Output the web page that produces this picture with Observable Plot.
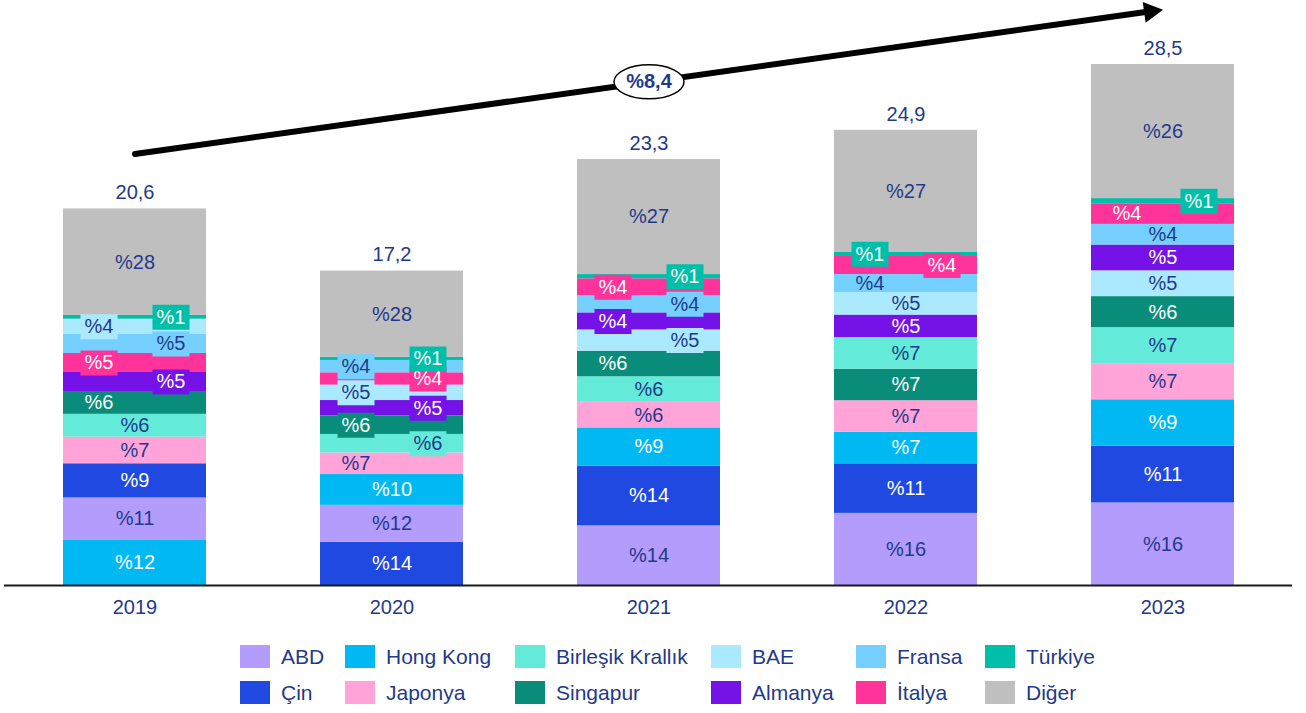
<!DOCTYPE html>
<html><head><meta charset="utf-8">
<script src="https://cdn.jsdelivr.net/npm/d3@7"></script>
<script src="https://cdn.jsdelivr.net/npm/@observablehq/plot@0.6"></script>
<style>
body{margin:0;background:#fff;font-family:"Liberation Sans",Arial,sans-serif;overflow:hidden;}
#chart{width:1306px;height:630px;}
.legend{display:grid;grid-auto-flow:column;grid-template-rows:23px 23px;grid-template-columns:105px 170px 196px 145px 129px 120px;row-gap:13px;margin:15px 0 0 240px;}
.item{display:flex;align-items:center;height:23px;font-size:21px;color:#1F3A8A;white-space:nowrap;}
.sw{width:30px;height:23px;margin-right:11px;flex:none;}
</style></head><body>
<div id="chart"></div>
<div class="legend" id="legend"></div>
<script>
const years = ["2019", "2020", "2021", "2022", "2023"];
const totals = [20.6, 17.2, 23.3, 24.9, 28.5];
const cagr = "%8,4";
const countries = ["ABD", "Çin", "Hong Kong", "Japonya", "Birleşik Krallık", "Singapur", "BAE", "Almanya", "Fransa", "İtalya", "Türkiye", "Diğer"];
const colors = ["#B49CFC", "#1F49E0", "#00B9F2", "#FFA3D8", "#63EAD8", "#0A8C7A", "#ABE9FF", "#7512E8", "#75D0FF", "#FF3399", "#00BFA8", "#BFBFBF"];

// shares (%) in the order of `countries`
const share2019 = [11, 9, 12, 7, 6, 6, 4, 5, 5, 5, 1, 28];
const share2020 = [12, 14, 10, 7, 6, 6, 5, 5, 4, 4, 1, 28];
const share2021 = [14, 14, 9, 6, 6, 6, 5, 4, 4, 4, 1, 27];
const share2022 = [16, 11, 7, 7, 7, 7, 5, 5, 4, 4, 1, 27];
const share2023 = [16, 11, 9, 7, 7, 6, 5, 5, 4, 4, 1, 26];

// stacking order per year, bottom to top
const order2019 = ["Hong Kong", "ABD", "Çin", "Japonya", "Birleşik Krallık", "Singapur", "Almanya", "İtalya", "Fransa", "BAE", "Türkiye", "Diğer"];
const order2020 = ["Çin", "ABD", "Hong Kong", "Japonya", "Birleşik Krallık", "Singapur", "Almanya", "BAE", "İtalya", "Fransa", "Türkiye", "Diğer"];
const order2021 = ["ABD", "Çin", "Hong Kong", "Japonya", "Birleşik Krallık", "Singapur", "BAE", "Almanya", "Fransa", "İtalya", "Türkiye", "Diğer"];
const order2022 = ["ABD", "Çin", "Hong Kong", "Japonya", "Singapur", "Birleşik Krallık", "Almanya", "BAE", "Fransa", "İtalya", "Türkiye", "Diğer"];
const order2023 = ["ABD", "Çin", "Hong Kong", "Japonya", "Birleşik Krallık", "Singapur", "BAE", "Almanya", "Fransa", "İtalya", "Türkiye", "Diğer"];

// label placement in stack order: c = centre, L/R = left/right with box, l = left without box
const place2019 = ["c", "c", "c", "c", "c", "l", "R", "L", "R", "L", "R", "c"];
const place2020 = ["c", "c", "c", "l", "R", "L", "R", "L", "R", "L", "R", "c"];
const place2021 = ["c", "c", "c", "c", "c", "l", "R", "L", "R", "L", "R", "c"];
const place2022 = ["c", "c", "c", "c", "c", "c", "c", "c", "l", "R", "L", "c"];
const place2023 = ["c", "c", "c", "c", "c", "c", "c", "c", "c", "l", "R", "c"];

const shares = [share2019, share2020, share2021, share2022, share2023];
const orders = [order2019, order2020, order2021, order2022, order2023];
const places = [place2019, place2020, place2021, place2022, place2023];

const navy = "#1F3A8A";
const whiteText = new Set(["Çin", "Hong Kong", "Singapur", "Almanya", "İtalya", "Türkiye"]);
const font = "Liberation Sans, Arial, sans-serif";
const OFF = 36;

const rows = [];
years.forEach((year, i) => {
  const sh = shares[i];
  const sum = d3.sum(sh);
  let cum = 0;
  orders[i].forEach((c, k) => {
    const s = sh[countries.indexOf(c)];
    const v = s / sum * totals[i];
    rows.push({year, country: c, y1: cum, y2: cum + v, mid: cum + v / 2, label: "%" + s, place: places[i][k], level: k});
    cum += v;
  });
});
const totalRows = years.map((year, i) => ({year, total: totals[i], label: totals[i].toFixed(1).replace(".", ",")}));
const arrowOffset = 3;
const trend = [{x1: years[0], y1: totals[0] + arrowOffset, x2: years[years.length - 1], y2: totals[totals.length - 1] + arrowOffset}];
const trendMid = [{x: years[2], y: (trend[0].y1 + trend[0].y2) / 2, label: cagr}];

const base = {
  width: 1306, height: 630,
  marginLeft: 4, marginRight: 14, marginTop: 0, marginBottom: 45,
  style: {fontFamily: font, fontSize: "20px", color: navy, background: "white", overflow: "visible"},
  x: {domain: years, paddingInner: 0.444, paddingOuter: 0.224, tickSize: 0, tickPadding: 14, label: null},
  y: {domain: [0, 32], axis: null},
  color: {domain: countries, range: colors}
};

// first pass to learn the pixel angle of the trend arrow
const p0 = Plot.plot({...base, marks: [Plot.barY(rows, {x: "year", y1: "y1", y2: "y2", fill: "country"})]});
const sx = p0.scale("x"), sy = p0.scale("y");
const px = v => sx.apply(v) + (sx.bandwidth || 0) / 2;
const py = v => sy.apply(v);
const ang = Math.atan2(py(trend[0].y2) - py(trend[0].y1), px(trend[0].x2) - px(trend[0].x1));

const headSymbol = {draw(ctx) {
  const L = 19, W = 21, c = Math.cos(ang), s = Math.sin(ang);
  const bx = -L * c, by = -L * s, nx = -s * W / 2, ny = c * W / 2;
  ctx.moveTo(0, 0); ctx.lineTo(bx + nx, by + ny); ctx.lineTo(bx - nx, by - ny); ctx.closePath();
}};
const ellipseSymbol = {draw(ctx) {
  const a = 35, b = 17, k = 0.5523;
  ctx.moveTo(a, 0);
  ctx.bezierCurveTo(a, b * k, a * k, b, 0, b);
  ctx.bezierCurveTo(-a * k, b, -a, b * k, -a, 0);
  ctx.bezierCurveTo(-a, -b * k, -a * k, -b, 0, -b);
  ctx.bezierCurveTo(a * k, -b, a, -b * k, a, 0);
  ctx.closePath();
}};
const boxSymbol = {draw(ctx) { ctx.rect(-18.5, -12.5, 37, 25); }};

const centre = rows.filter(d => d.place === "c");
const marks = [
  Plot.barY(rows, {x: "year", y1: "y1", y2: "y2", fill: "country"}),
  Plot.ruleY([0], {stroke: "#1a1a1a", strokeWidth: 2}),
  Plot.text(centre.filter(d => whiteText.has(d.country)), {x: "year", y: "mid", text: "label", fill: "white", fontSize: 20}),
  Plot.text(centre.filter(d => !whiteText.has(d.country)), {x: "year", y: "mid", text: "label", fill: navy, fontSize: 20})
];
const side = rows.filter(d => d.place !== "c").sort((a, b) => a.level - b.level);
for (const d of side) {
  const dx = (d.place === "L" || d.place === "l") ? -OFF : OFF;
  if (d.place === "L" || d.place === "R") {
    marks.push(Plot.dot([d], {x: "year", y: "mid", dx, symbol: boxSymbol, fill: colors[countries.indexOf(d.country)], stroke: "none"}));
  }
  marks.push(Plot.text([d], {x: "year", y: "mid", dx, text: "label", fill: whiteText.has(d.country) ? "white" : navy, fontSize: 20}));
}
marks.push(
  Plot.text(totalRows, {x: "year", y: "total", text: "label", dy: -16, fill: navy, fontSize: 20}),
  Plot.arrow(trend, {x1: "x1", y1: "y1", x2: "x2", y2: "y2", stroke: "black", strokeWidth: 6, headLength: 0, insetEnd: 14}),
  Plot.dot(trend, {x: "x2", y: "y2", symbol: headSymbol, fill: "black", stroke: "none"}),
  Plot.dot(trendMid, {x: "x", y: "y", symbol: ellipseSymbol, fill: "white", stroke: "black", strokeWidth: 1.5}),
  Plot.text(trendMid, {x: "x", y: "y", text: "label", fill: navy, fontSize: 20, fontWeight: "bold"})
);

const chart = Plot.plot({...base, marks});
document.getElementById("chart").append(chart);

const legend = document.getElementById("legend");
countries.forEach((c, i) => {
  const it = document.createElement("div");
  it.className = "item";
  const sw = document.createElement("span");
  sw.className = "sw";
  sw.style.background = colors[i];
  it.append(sw, document.createTextNode(c));
  legend.append(it);
});
</script>
</body></html>
